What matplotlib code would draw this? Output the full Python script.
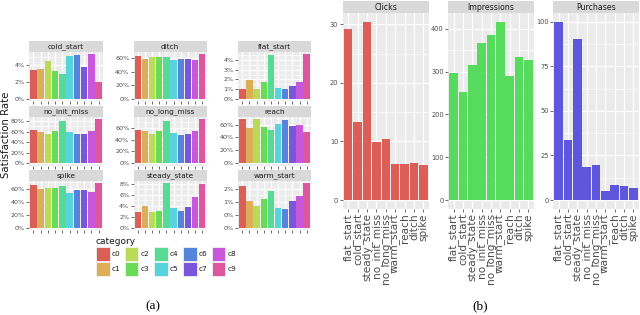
import colorsys
import numpy as np
import matplotlib
matplotlib.use("Agg")
import matplotlib.pyplot as plt
from matplotlib.patches import Rectangle

# ---------------- data ----------------
categories = ['c0', 'c1', 'c2', 'c3', 'c4', 'c5', 'c6', 'c7', 'c8', 'c9']
facets = ['cold_start', 'ditch', 'flat_start', 'no_init_miss', 'no_long_miss',
          'reach', 'spike', 'steady_state', 'warm_start']
cold_start = [3.4, 3.5, 4.55, 3.3, 2.9, 5.1, 5.2, 3.75, 5.3, 2.0]
ditch = [63, 58, 62, 61.5, 62, 56.5, 58.5, 58, 56.5, 65.5]
flat_start = [1.03, 1.95, 1.0, 1.77, 4.54, 1.13, 1.0, 1.35, 1.77, 4.6]
no_init_miss = [63, 60, 56, 61, 80, 59, 56.4, 56.4, 61, 84.6]
no_long_miss = [55.4, 53.6, 50, 54, 71.7, 51, 48.4, 49.6, 54, 75]
reach = [69, 55, 69, 56, 51, 61.5, 67, 57, 60, 48]
spike = [65.3, 59, 61, 61.6, 64, 54, 58.4, 57.4, 54.7, 68.4]
steady_state = [2.85, 3.9, 2.9, 3.1, 8.06, 3.6, 3.0, 3.8, 5.6, 7.9]
warm_start = [1.62, 1.05, 0.84, 1.13, 1.41, 0.78, 0.72, 1.03, 1.22, 1.72]
facet_values = [cold_start, ditch, flat_start, no_init_miss, no_long_miss,
                reach, spike, steady_state, warm_start]
facet_ticks = [[0, 2, 4], [0, 20, 40, 60], [0, 1, 2, 3, 4], [0, 20, 40, 60, 80],
               [0, 20, 40, 60], [0, 20, 40, 60], [0, 20, 40, 60], [0, 2, 4, 6, 8],
               [0, 0.5, 1.0, 1.5]]
facet_ticklabels = [['0%', '2%', '4%'], ['0%', '20%', '40%', '60%'],
                    ['0%', '1%', '2%', '3%', '4%'], ['0%', '20%', '40%', '60%', '80%'],
                    ['0%', '20%', '40%', '60%'], ['0%', '20%', '40%', '60%'],
                    ['0%', '20%', '40%', '60%'], ['0%', '2%', '4%', '6%', '8%'],
                    ['0%', '0%', '1%', '2%']]

scenarios = ['flat_start', 'cold_start', 'steady_state', 'no_init_miss', 'no_long_miss',
             'warm_start', 'reach', 'ditch', 'spike']
metrics = ['Clicks', 'Impressions', 'Purchases']
clicks = [29.2, 13.3, 30.45, 9.95, 10.5, 6.1, 6.1, 6.4, 5.9]
impressions = [296, 253, 315, 366, 386, 417, 291, 335, 327]
purchases = [100, 33.5, 90.4, 18.3, 19.8, 4.9, 8.5, 7.9, 6.6]
metric_values = [clicks, impressions, purchases]
metric_ticks = [[0, 10, 20, 30], [0, 100, 200, 300, 400], [0, 25, 50, 75, 100]]

# ---------------- style ----------------
def hls_pal(n, h=0.01, l=0.6, s=0.65):
    hues = (np.linspace(0, 1, n + 1)[:-1] + h) % 1
    return [colorsys.hls_to_rgb(hh, l, s) for hh in hues]

cat_colors = hls_pal(len(categories))
metric_colors = hls_pal(len(metrics))

PANEL_BG = '#EBEBEB'
STRIP_BG = '#D9D9D9'
TICK_TXT = '#4D4D4D'
TICK_COL = '#333333'

W, H = 640, 315
fig = plt.figure(figsize=(W / 100, H / 100), dpi=100)


def add_px_axes(x0, y0, x1, y1):
    return fig.add_axes([x0 / W, 1 - y1 / H, (x1 - x0) / W, (y1 - y0) / H])


def strip(x0, y0, x1, y1, text, fs):
    sa = add_px_axes(x0, y0, x1, y1)
    sa.set_facecolor(STRIP_BG)
    sa.set_xticks([]); sa.set_yticks([])
    for sp in sa.spines.values():
        sp.set_visible(False)
    sa.text(0.5, 0.45, text, ha='center', va='center', fontsize=fs,
            color='#1A1A1A', transform=sa.transAxes)


def style_panel(ax, vals, ticks, ticklabels, nbars, ytick_fs, xlabels=None, xfs=None):
    ax.set_facecolor(PANEL_BG)
    for sp in ax.spines.values():
        sp.set_visible(False)
    vmax = max(vals)
    ax.set_ylim(-0.05 * vmax, 1.05 * vmax)
    ax.set_xlim(-0.6, nbars - 0.4)
    step = ticks[1] - ticks[0]
    minors = np.arange(ticks[0] - step / 2, 1.05 * vmax + step, step)
    for m in minors:
        ax.axhline(m, color='white', lw=0.45, zorder=0.5)
    for t in ticks:
        ax.axhline(t, color='white', lw=0.9, zorder=0.6)
    for i in range(nbars):
        ax.axvline(i, color='white', lw=0.9, zorder=0.6)
    ax.set_yticks(ticks)
    ax.set_yticklabels(ticklabels)
    ax.tick_params(axis='y', labelsize=ytick_fs, colors=TICK_COL, labelcolor=TICK_TXT,
                   length=2, width=0.5, pad=1)
    ax.set_xticks(range(nbars))
    if xlabels is None:
        ax.set_xticklabels([''] * nbars)
        ax.tick_params(axis='x', length=2, width=0.5, colors=TICK_COL, pad=1)
    else:
        ax.set_xticklabels(xlabels, rotation=90, fontsize=xfs, color=TICK_TXT,
                           va='top', ha='center')
        ax.tick_params(axis='x', length=2, width=0.5, colors=TICK_COL, pad=1,
                       labelcolor=TICK_TXT)
    ax.grid(False)


# ---------------- panel (a) ----------------
col_x = [(29, 103), (133.5, 206.5), (238, 311)]
row_y = [41, 105.5, 170]
strip_h = 11
plot_h = 49
x = np.arange(len(categories))
for k, name in enumerate(facets):
    r, c = divmod(k, 3)
    x0, x1 = col_x[c]
    ys = row_y[r]
    strip(x0, ys, x1, ys + strip_h, name, 5.3)
    ax = add_px_axes(x0, ys + strip_h, x1, ys + strip_h + plot_h)
    ax.bar(x, facet_values[k], width=0.9, color=cat_colors, zorder=2)
    style_panel(ax, facet_values[k], facet_ticks[k], facet_ticklabels[k],
                len(categories), 4.6)

fig.text(6.5 / W, 1 - 135 / H, 'Satisfaction Rate', rotation=90, ha='center',
         va='center', fontsize=7.3, color='#1A1A1A')

# legend
lax = add_px_axes(0, 0, W, H)
lax.set_xlim(0, W); lax.set_ylim(H, 0); lax.axis('off')
lax.text(96, 241, 'category', ha='left', va='center', fontsize=6.5, color='#1A1A1A')
key_x = [96, 124.5, 154, 183, 211.5]
key_y = [247, 262]
for i, cat in enumerate(categories):
    cc, rr = divmod(i, 2)
    kx, ky = key_x[cc], key_y[rr]
    lax.add_patch(Rectangle((kx, ky), 13.5, 13.5, facecolor=cat_colors[i],
                            edgecolor='#F2F2F2', lw=0.6))
    lax.text(kx + 16, ky + 7, cat, ha='left', va='center', fontsize=5.3, color='#1A1A1A')

lax.text(153, 306, '(a)', ha='center', va='center', fontsize=9.5,
         family='Liberation Serif', color='black')
lax.text(480, 306, '(b)', ha='center', va='center', fontsize=9.5,
         family='Liberation Serif', color='black')

# ---------------- panel (b) ----------------
mcol_x = [(342.5, 429), (448, 534), (553, 639)]
xs = np.arange(len(scenarios))
for k, name in enumerate(metrics):
    x0, x1 = mcol_x[k]
    strip(x0, 0.5, x1, 12.7, name, 5.6)
    ax = add_px_axes(x0, 12.7, x1, 209)
    ax.bar(xs, metric_values[k], width=0.9, color=metric_colors[k], zorder=2)
    style_panel(ax, metric_values[k], metric_ticks[k], [str(t) for t in metric_ticks[k]],
                len(scenarios), 4.8, xlabels=scenarios, xfs=7.6)

fig.savefig('out.png', dpi=100, facecolor='white')
